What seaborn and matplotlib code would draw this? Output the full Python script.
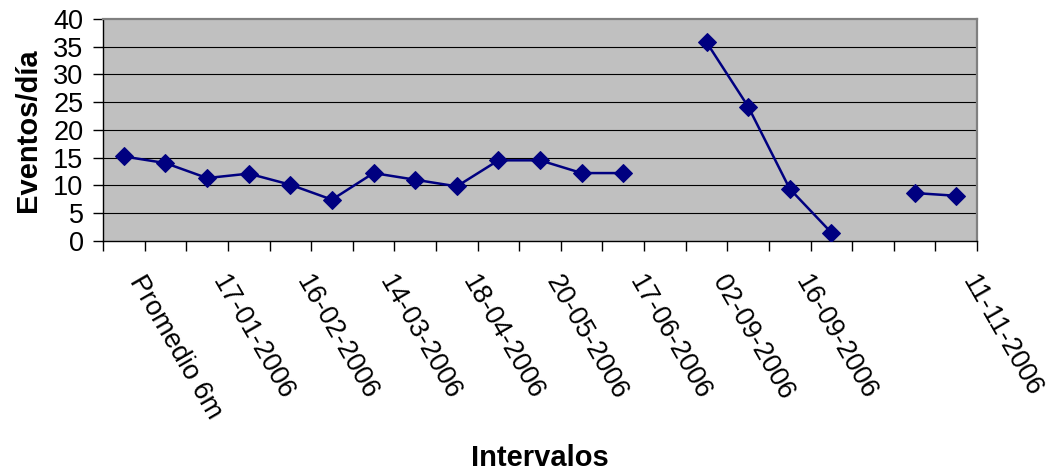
import numpy as np
import pandas as pd
import seaborn as sns
import matplotlib.pyplot as plt
from matplotlib.ticker import FixedLocator, NullFormatter

# etiquetas de intervalo (solo se ven una de cada dos)
etiquetas = ['Promedio 6m', '', '17-01-2006', '', '16-02-2006', '', '14-03-2006', '',
             '18-04-2006', '', '20-05-2006', '', '17-06-2006', '', '02-09-2006', '',
             '16-09-2006', '', '', '', '11-11-2006']
eventos = [15.2, 14.0, 11.3, 12.1, 10.1, 7.4, 12.2, 11.0, 9.8, 14.5, 14.5, 12.2, 12.2,
           np.nan, 35.8, 24.2, 9.35, 1.45, np.nan, 8.6, 8.1]

df = pd.DataFrame({'pos': np.arange(len(eventos)), 'eventos': eventos})
# tramos separados por los huecos sin datos
df['tramo'] = df['eventos'].isna().cumsum()
df = df.dropna()

sns.set_style('white')
plt.rcParams['font.family'] = ['Liberation Sans', 'DejaVu Sans']
plt.rcParams['text.color'] = 'black'
plt.rcParams['xtick.color'] = 'black'
plt.rcParams['ytick.color'] = 'black'
plt.rcParams['axes.labelcolor'] = 'black'

fig = plt.figure(figsize=(10.47, 4.75), dpi=100)
ax = fig.add_axes([0.0984, 0.4933, 0.8348, 0.4667])
ax.set_facecolor('#C0C0C0')

sns.lineplot(data=df, x='pos', y='eventos', units='tramo', estimator=None,
             color='#000080', marker='D', markersize=9.5, markeredgecolor='#000080',
             linewidth=1.8, ax=ax, zorder=3)

ax.set_xlim(-0.5, len(etiquetas) - 0.5)
ax.set_ylim(0, 40)
ax.set_yticks(range(0, 41, 5))
for v in range(5, 40, 5):
    ax.axhline(v, color='black', linewidth=0.8, zorder=1)

ax.set_xticks(np.arange(len(etiquetas)))
ax.set_xticklabels(etiquetas, rotation=-60, ha='left', va='top', fontsize=19.5)
ax.tick_params(axis='x', which='major', length=0, pad=22)
ax.xaxis.set_minor_locator(FixedLocator(np.arange(-0.5, len(etiquetas), 1)))
ax.xaxis.set_minor_formatter(NullFormatter())
ax.tick_params(axis='x', which='minor', bottom=True, direction='out', length=7,
               width=1, color='black')
ax.tick_params(axis='y', left=True, direction='out', length=7, width=1,
               color='black', labelsize=19.5, pad=7)

for s in ['top', 'right']:
    ax.spines[s].set_color('#808080')
    ax.spines[s].set_linewidth(1.6)
for s in ['left', 'bottom']:
    ax.spines[s].set_color('black')
    ax.spines[s].set_linewidth(1)

ax.set_xlabel('')
ax.set_ylabel('Eventos/día', fontsize=21, fontweight='bold', labelpad=8)
fig.text(0.516, 0.035, 'Intervalos', fontsize=21, fontweight='bold', ha='center', va='center')

fig.savefig('out.png', dpi=100)
